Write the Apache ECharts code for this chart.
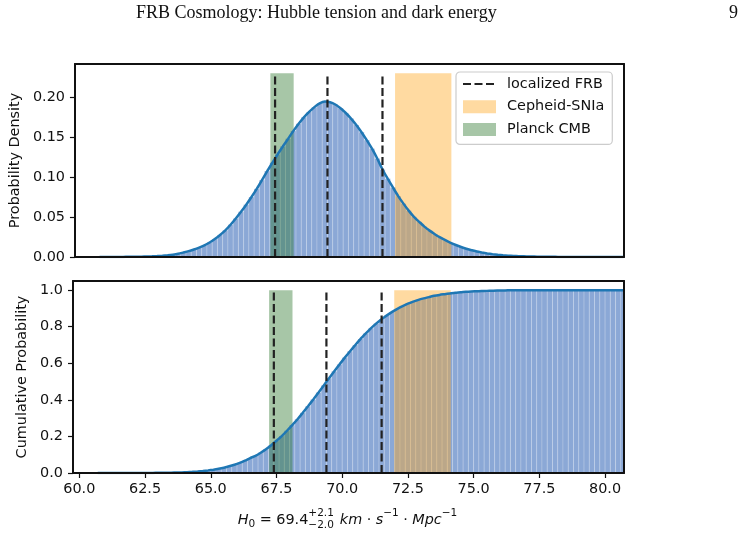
<!DOCTYPE html>
<html>
<head>
<meta charset="utf-8">
<script src="https://cdn.jsdelivr.net/npm/echarts@6/dist/echarts.min.js"></script>
<style>
  html, body { margin: 0; padding: 0; background: #fff; }
  #chart { width: 746px; height: 536px; }
</style>
</head>
<body>
<div id="chart"></div>
<script>
// histogram bins (width 0.2 starting at 60.6)
const binStart = 60.6
const binWidth = 0.2

// probability density per bin
const density = [
  0, 0, 0.0001, 0.0001, 0.0001, 0.0002, 0.0002, 0.0003, 0.0004, 0.0006,
  0.0008, 0.0011, 0.0015, 0.0021, 0.0029, 0.0040, 0.0056, 0.0073, 0.0094, 0.0118,
  0.0146, 0.0182, 0.0226, 0.0276, 0.0334, 0.0404, 0.0482, 0.0566, 0.0655, 0.0750,
  0.0852, 0.0962, 0.1075, 0.1180, 0.1285, 0.1385, 0.1480, 0.1578, 0.1668, 0.1748,
  0.1815, 0.1875, 0.1922, 0.1945, 0.1937, 0.1908, 0.1862, 0.1802, 0.1732, 0.1652,
  0.1562, 0.1462, 0.1355, 0.1232, 0.1095, 0.0980, 0.0870, 0.0762, 0.0668, 0.0580,
  0.0502, 0.0440, 0.0380, 0.0330, 0.0285, 0.0245, 0.0210, 0.0178, 0.0150, 0.0125,
  0.0103, 0.0085, 0.0068, 0.0056, 0.0045, 0.0036, 0.0028, 0.0022, 0.0017, 0.0013,
  0.0010, 0.0008, 0.0006, 0.0005, 0.0004, 0.0003, 0.0002, 0.0002, 0.0001, 0.0001,
  0.0001, 0.0001, 0, 0, 0, 0, 0, 0, 0, 0, 0
]

// cumulative probability per bin
const cumulative = [
  0, 0, 0, 0, 0, 0.0001, 0.0001, 0.0002, 0.0002, 0.0003,
  0.0005, 0.0007, 0.0009, 0.0013, 0.0018, 0.0025, 0.0034, 0.0047, 0.0064, 0.0085,
  0.0111, 0.0143, 0.0183, 0.0232, 0.0292, 0.0365, 0.0452, 0.0555, 0.0676, 0.0815,
  0.094, 0.111, 0.130, 0.152, 0.176, 0.202, 0.231, 0.262, 0.294, 0.329,
  0.365, 0.402, 0.440, 0.479, 0.518, 0.556, 0.594, 0.631, 0.666, 0.700,
  0.733, 0.763, 0.792, 0.818, 0.841, 0.862, 0.881, 0.898, 0.913, 0.926,
  0.937, 0.947, 0.955, 0.962, 0.969, 0.974, 0.978, 0.982, 0.986, 0.988,
  0.991, 0.993, 0.994, 0.995, 0.996, 0.997, 0.998, 0.998, 0.999, 0.999,
  0.999, 0.9994, 0.9995, 0.9996, 0.9997, 0.9998, 0.9998, 0.9999, 0.9999, 0.9999,
  1, 1, 1, 1, 1, 1, 1, 1, 1, 1, 1
]

// H0 estimate (median and 16/84 percentiles) and reference bands
const frbLines = [67.4, 69.4, 71.5]
const cepheidBand = [71.98, 74.13]
const planckBand = [67.22, 68.11]
const bandTops = [0.23, 1.0]

// axes
const xRange = [59.76, 80.72]
const xTicks = [60, 62.5, 65, 67.5, 70, 72.5, 75, 77.5, 80]
const densityTicks = [0, 0.05, 0.1, 0.15, 0.2]
const cumulativeTicks = [0, 0.2, 0.4, 0.6, 0.8, 1.0]
const yMax = [0.2415, 1.05]

const INK = '#111111'
const FONT = 'DejaVu Sans'
const HIST_COLOR = '#8ba8d6'
const KDE_COLOR = '#1f77b4'
const ORANGE = 'rgba(255, 168, 30, 0.42)'
const GREEN = 'rgba(45, 120, 45, 0.42)'

var chart = echarts.init(document.getElementById('chart'))

function rectItem(params, api) {
  var a = api.coord([api.value(0), api.value(2)])
  var b = api.coord([api.value(1), 0])
  return {
    type: 'rect',
    shape: { x: a[0], y: a[1], width: b[0] - a[0], height: b[1] - a[1] },
    style: api.style()
  }
}

function binRects(values) {
  return values.map(function(v, i) {
    var x0 = binStart + i * binWidth
    return [x0, x0 + binWidth, v]
  })
}

function binCenters(values) {
  return values.map(function(v, i) {
    return [binStart + (i + 0.5) * binWidth, v]
  })
}

function panelAxes(g, showX) {
  var frame = { show: true, onZero: false, lineStyle: { color: INK, width: 2 } }
  var x = [
    {
      type: 'value', gridIndex: g, position: 'bottom', min: xRange[0], max: xRange[1], z: 10,
      axisLine: frame,
      axisTick: { show: showX, customValues: xTicks, length: 5, lineStyle: { color: INK, width: 1.2 } },
      axisLabel: {
        show: showX, customValues: xTicks, margin: 9,
        color: INK, fontFamily: FONT, fontSize: 14.4,
        formatter: function(v) { return v.toFixed(1) }
      },
      splitLine: { show: false }
    },
    {
      type: 'value', gridIndex: g, position: 'top', min: xRange[0], max: xRange[1], z: 10,
      axisLine: frame, axisTick: { show: false }, axisLabel: { show: false }, splitLine: { show: false }
    }
  ]
  var ticks = g === 0 ? densityTicks : cumulativeTicks
  var y = [
    {
      type: 'value', gridIndex: g, position: 'left', min: 0, max: yMax[g], z: 10,
      name: g === 0 ? 'Probability Density' : 'Cumulative Probability',
      nameLocation: 'middle', nameRotate: 90, nameGap: g === 0 ? 51 : 40,
      nameTextStyle: { color: INK, fontFamily: FONT, fontSize: 14.4 },
      axisLine: frame,
      axisTick: { show: true, customValues: ticks, length: 5, lineStyle: { color: INK, width: 1.2 } },
      axisLabel: {
        customValues: ticks, margin: 10,
        color: INK, fontFamily: FONT, fontSize: 14.4,
        formatter: function(v) { return g === 0 ? v.toFixed(2) : v.toFixed(1) }
      },
      splitLine: { show: false }
    },
    {
      type: 'value', gridIndex: g, position: 'right', min: 0, max: yMax[g], z: 10,
      axisLine: frame, axisTick: { show: false }, axisLabel: { show: false }, splitLine: { show: false }
    }
  ]
  return { x: x, y: y }
}

function panelSeries(g, values) {
  var xi = g * 2
  var yi = g * 2
  var list = [
    {
      type: 'custom', name: 'hist' + g, xAxisIndex: xi, yAxisIndex: yi, z: 2, clip: true,
      renderItem: rectItem,
      itemStyle: { color: HIST_COLOR, borderColor: 'rgba(255,255,255,0.3)', borderWidth: 0.6 },
      encode: { x: [0, 1], y: 2 },
      data: binRects(values),
      silent: true
    },
    {
      type: 'custom', name: 'Cepheid-SNIa', xAxisIndex: xi, yAxisIndex: yi, z: 3,
      renderItem: rectItem,
      itemStyle: { color: ORANGE },
      encode: { x: [0, 1], y: 2 },
      data: [[cepheidBand[0], cepheidBand[1], bandTops[g]]]
    },
    {
      type: 'custom', name: 'Planck CMB', xAxisIndex: xi, yAxisIndex: yi, z: 3,
      renderItem: rectItem,
      itemStyle: { color: GREEN },
      encode: { x: [0, 1], y: 2 },
      data: [[planckBand[0], planckBand[1], bandTops[g]]]
    },
    {
      type: 'line', name: 'kde' + g, xAxisIndex: xi, yAxisIndex: yi, z: 4,
      data: binCenters(values), showSymbol: false, symbol: 'none', smooth: 0.2,
      lineStyle: { color: KDE_COLOR, width: 2.5 },
      silent: true
    }
  ]
  frbLines.forEach(function(h) {
    list.push({
      type: 'line', name: 'localized FRB', xAxisIndex: xi, yAxisIndex: yi, z: 5,
      data: [[h, 0], [h, bandTops[g]]], symbol: 'none',
      lineStyle: { color: '#222', width: 2.2, type: [8, 3.5] },
      itemStyle: { color: '#222' },
      silent: true
    })
  })
  return list
}

// x-axis title built from mathtext-like pieces
function xTitle() {
  var ctx = document.createElement('canvas').getContext('2d')
  var big = 14.4, small = 10.5
  var parts = [
    { t: 'H', it: true },
    { t: '0', s: 1 },
    { t: '=', l: 4.5, r: 4.5 },
    { t: '69.4' },
    { stack: ['+2.1', '\u22122.0'] },
    { t: 'km', it: true, l: 6 },
    { t: '\u00b7', l: 4.5, r: 4.5 },
    { t: 's', it: true },
    { t: '\u22121', s: -1 },
    { t: '\u00b7', l: 4.5, r: 4.5 },
    { t: 'Mpc', it: true },
    { t: '\u22121', s: -1 }
  ]
  function w(t, size, it) {
    ctx.font = (it ? 'italic ' : '') + size + 'px "' + FONT + '"'
    return ctx.measureText(t).width
  }
  var x = 0
  var items = []
  parts.forEach(function(p) {
    x += p.l || 0
    if (p.stack) {
      items.push({ t: p.stack[0], x: x, dy: -7, size: small })
      items.push({ t: p.stack[1], x: x, dy: 5.5, size: small })
      x += Math.max(w(p.stack[0], small), w(p.stack[1], small))
    } else {
      var size = p.s ? small : big
      var dy = p.s === 1 ? 4.5 : (p.s === -1 ? -6.5 : 0)
      items.push({ t: p.t, x: x, dy: dy, size: size, it: p.it })
      x += w(p.t, size, p.it)
    }
    x += p.r || 0
  })
  var x0 = 347.5 - x / 2
  return items.map(function(it) {
    return {
      type: 'text', x: x0 + it.x, y: 520 + it.dy, silent: true,
      style: {
        text: it.t, fill: INK, fontFamily: FONT, fontSize: it.size,
        fontStyle: it.it ? 'italic' : 'normal', verticalAlign: 'middle'
      }
    }
  })
}

var topPanel = panelAxes(0, false)
var bottomPanel = panelAxes(1, true)

var option = {
  animation: false,
  backgroundColor: '#fff',
  grid: [
    { left: 73, right: 122, top: 64, height: 193, containLabel: false },
    { left: 73, right: 122, top: 281, height: 192, containLabel: false }
  ],
  xAxis: topPanel.x.concat(bottomPanel.x),
  yAxis: topPanel.y.concat(bottomPanel.y),
  legend: {
    orient: 'vertical', left: 456, top: 72,
    itemWidth: 33, itemHeight: 13, itemGap: 6.7,
    padding: [4, 8, 7, 6],
    backgroundColor: 'rgba(255,255,255,0.8)',
    borderColor: '#cccccc', borderWidth: 1.2, borderRadius: 4,
    textStyle: { fontFamily: FONT, fontSize: 14.4, color: INK, lineHeight: 16, padding: [0, 0, 0, 6] },
    data: [
      { name: 'localized FRB', itemStyle: { color: 'rgba(0,0,0,0)', borderWidth: 0 } },
      { name: 'Cepheid-SNIa', icon: 'rect' },
      { name: 'Planck CMB', icon: 'rect' }
    ]
  },
  graphic: [
    {
      type: 'text', x: 136, y: 13, silent: true,
      style: { text: 'FRB Cosmology: Hubble tension and dark energy', fill: '#111', fontFamily: 'Liberation Serif', fontSize: 18, verticalAlign: 'middle' }
    },
    {
      type: 'text', x: 729, y: 13, silent: true,
      style: { text: '9', fill: '#111', fontFamily: 'Liberation Serif', fontSize: 18, verticalAlign: 'middle' }
    }
  ].concat(xTitle()),
  series: panelSeries(0, density).concat(panelSeries(1, cumulative))
}

chart.setOption(option)
</script>
</body>
</html>
